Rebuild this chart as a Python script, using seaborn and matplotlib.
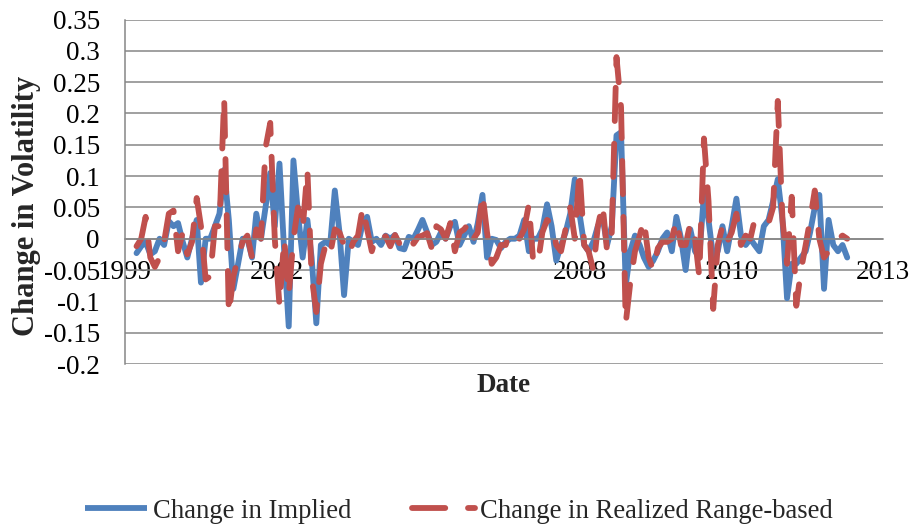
import numpy as np
import pandas as pd
import matplotlib
matplotlib.use("Agg")
import matplotlib.pyplot as plt
import matplotlib.dates as mdates
from matplotlib.lines import Line2D
import seaborn as sns

# ---------------- data ----------------
dates = pd.date_range("2000-01-01", periods=155, freq="MS") + pd.Timedelta(days=15)

implied = [
    -0.023, -0.012, -0.005, -0.025, -0.020, 0.000, -0.010, 0.028, 0.020, 0.025,
    -0.005, -0.030, 0.000, 0.030, -0.070, 0.000, 0.000, 0.020, 0.040, 0.110,
    0.030, -0.080, -0.040, 0.000, 0.000, -0.030, 0.040, 0.000, 0.050, 0.105,
    0.020, 0.120, -0.020, -0.140, 0.125, 0.040, -0.030, 0.030, -0.030, -0.135,
    -0.010, -0.005, -0.010, 0.077, 0.010, -0.090, 0.000, -0.005, -0.010, 0.025,
    0.035, -0.005, 0.000, -0.010, 0.005, 0.000, 0.006, -0.015, -0.017, 0.003,
    0.000, 0.015, 0.030, 0.010, -0.010, -0.005, 0.010, 0.000, 0.020, 0.027,
    -0.010, 0.005, 0.020, -0.005, 0.025, 0.070, -0.030, 0.000, -0.002, -0.015,
    -0.005, 0.000, 0.000, 0.005, 0.030, -0.020, 0.000, 0.000, 0.015, 0.055,
    0.020, -0.035, -0.010, 0.010, 0.040, 0.095, 0.040, -0.010, -0.020, -0.005,
    0.020, 0.035, -0.010, 0.020, 0.165, 0.170, -0.075, -0.020, 0.005, -0.010,
    -0.030, -0.045, -0.035, -0.020, 0.000, 0.010, -0.020, 0.035, 0.000, -0.050,
    0.015, -0.020, -0.030, 0.072, 0.030, -0.030, -0.020, 0.020, -0.020, 0.020,
    0.064, 0.005, -0.010, 0.000, -0.010, -0.020, 0.020, 0.030, 0.060, 0.095,
    0.030, -0.095, -0.040, -0.040, -0.030, -0.020, 0.010, 0.050, 0.070, -0.080,
    0.030, -0.010, -0.020, -0.010, -0.030,
]

realized = [
    -0.012, 0.000, 0.035, -0.030, -0.045, -0.030, -0.005, 0.040, 0.045, -0.020,
    0.010, -0.025, -0.005, 0.065, 0.020, -0.065, -0.060, 0.020, 0.020, 0.225,
    -0.120, -0.060, -0.030, -0.005, 0.005, -0.030, 0.015, 0.000, 0.145, 0.185,
    0.000, -0.107, 0.000, -0.090, 0.000, 0.050, 0.015, 0.110, -0.060, -0.117,
    -0.040, -0.010, -0.025, 0.015, 0.010, -0.010, -0.025, -0.005, 0.005, 0.050,
    0.015, -0.020, 0.005, 0.000, 0.004, -0.012, 0.006, -0.008, 0.000, 0.006,
    -0.008, 0.003, 0.005, 0.009, -0.015, 0.020, 0.015, 0.000, 0.025, -0.020,
    0.010, 0.015, 0.025, 0.000, 0.010, 0.072, 0.010, -0.040, -0.030, -0.010,
    -0.010, 0.012, 0.005, 0.000, 0.015, 0.055, -0.035, -0.040, 0.010, 0.030,
    0.025, -0.010, -0.020, 0.015, 0.050, 0.000, 0.110, -0.010, -0.020, -0.050,
    0.020, 0.055, -0.020, 0.010, 0.290, 0.210, -0.135, -0.070, -0.020, 0.005,
    0.030, -0.030, -0.050, -0.015, -0.005, -0.005, 0.000, 0.030, -0.010, -0.010,
    0.025, 0.000, -0.060, 0.160, 0.060, -0.112, -0.010, 0.020, -0.005, 0.010,
    0.040, -0.010, 0.005, 0.000, 0.030, 0.030, 0.030, 0.025, 0.050, 0.220,
    0.030, -0.040, 0.067, -0.107, -0.050, -0.010, 0.030, 0.077, 0.000, -0.030,
    -0.020, -0.010, 0.000, 0.005, 0.000,
]

series_names = ["Change in Implied", "Change in Realized Range-based"]
y_ticks = [-0.2, -0.15, -0.1, -0.05, 0.0, 0.05, 0.1, 0.15, 0.2, 0.25, 0.3, 0.35]
y_tick_labels = ["-0.2", "-0.15", "-0.1", "-0.05", "0", "0.05", "0.1", "0.15",
                 "0.2", "0.25", "0.3", "0.35"]
x_tick_labels = ["1999", "2002", "2005", "2008", "2010", "2013"]
axis_start = pd.Timestamp("1999-11-01")
tick_step_days = 1000

# ---------------- style ----------------
sns.set_theme(style="white")
plt.rcParams["font.family"] = ["Liberation Serif", "DejaVu Serif"]
plt.rcParams["axes.unicode_minus"] = False

BLUE = "#4F81BD"
RED = "#C0504D"
GRID = "#868686"
FS = 19.5
LW = 4.2

df = pd.DataFrame({"Date": dates, series_names[0]: implied, series_names[1]: realized})
long = df.melt(id_vars="Date", var_name="Series", value_name="Change")

fig = plt.figure(figsize=(9.14, 5.27), dpi=100)
ax = fig.add_axes([125 / 914, 1 - 364 / 527, (883 - 125) / 914, (364 - 19.5) / 527])

dash_pattern = (5.7, 3.9)
sns.lineplot(data=long, x="Date", y="Change", hue="Series", style="Series",
             hue_order=series_names, style_order=series_names,
             palette={series_names[0]: BLUE, series_names[1]: RED},
             dashes={series_names[0]: "", series_names[1]: dash_pattern},
             linewidth=LW, legend=False, ax=ax, sort=False)

for ln in ax.lines:
    ln.set_linewidth(LW)
    ln.set_solid_joinstyle("round")
    ln.set_solid_capstyle("round")
    ln.set_dash_capstyle("round")
    ln.set_dash_joinstyle("round")

# axes limits and ticks
x_ticks = [mdates.date2num(axis_start + pd.Timedelta(days=k * tick_step_days))
           for k in range(len(x_tick_labels))]
ax.set_xlim(x_ticks[0], x_ticks[-1])
ax.set_xticks(x_ticks)
ax.set_xticklabels(x_tick_labels)
ax.set_ylim(-0.2, 0.35)
ax.set_yticks(y_ticks)
ax.set_yticklabels(y_tick_labels)

ax.set_xlabel("")
ax.set_ylabel("")

ax.yaxis.grid(True, color=GRID, linewidth=1.1)
ax.xaxis.grid(False)
ax.set_axisbelow(True)

for side in ["top", "right"]:
    ax.spines[side].set_visible(False)
ax.spines["bottom"].set_position(("data", 0))
ax.spines["bottom"].set_color(GRID)
ax.spines["bottom"].set_linewidth(1.1)
ax.spines["left"].set_color(GRID)
ax.spines["left"].set_linewidth(1.1)

ax.tick_params(axis="y", length=0, pad=18, labelsize=FS, colors="black")
ax.tick_params(axis="x", length=0, pad=15, labelsize=FS, colors="black")

fig.text(27 / 914, 1 - 206 / 527, "Change in Volatility", rotation=90,
         ha="center", va="center", fontsize=22, fontweight="bold")
fig.text(504 / 914, 1 - 385 / 527, "Date", ha="center", va="center",
         fontsize=FS, fontweight="bold")

handles = [
    Line2D([], [], color=BLUE, linewidth=LW, solid_capstyle="butt"),
    Line2D([], [], color=RED, linewidth=LW, dashes=dash_pattern, dash_capstyle="round"),
]
fig.legend(handles, series_names, loc="center", bbox_to_anchor=(459 / 914, 1 - 511 / 527),
           ncol=2, frameon=False, fontsize=19.2, handlelength=2.35, handletextpad=0.2,
           columnspacing=2.3, borderaxespad=0, borderpad=0)

fig.savefig("out.png", dpi=100)
